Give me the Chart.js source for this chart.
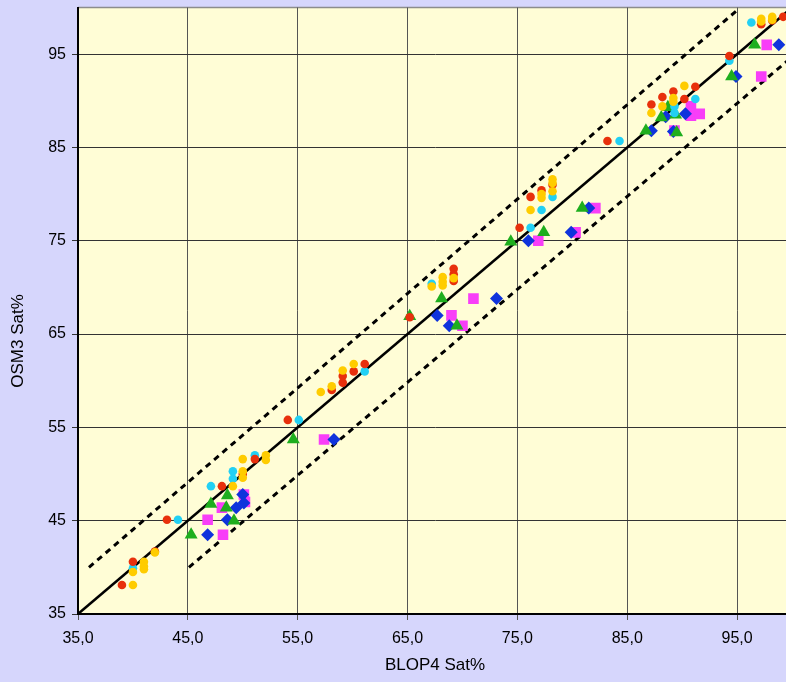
<!DOCTYPE html>
<html>
<head>
<meta charset="utf-8">
<script src="https://cdn.jsdelivr.net/npm/chart.js@4/dist/chart.umd.min.js"></script>
<style>
	html, body { margin: 0; padding: 0; overflow: hidden; background: #d6d6fc; }
	#wrap { width: 800px; height: 682px; position: relative; }
</style>
</head>
<body>
<div id="wrap"><canvas id="mycanvas"></canvas></div>
<script>
// axis ticks
var xTicks = [35, 45, 55, 65, 75, 85, 95];
var yTicks = [35, 45, 55, 65, 75, 85, 95];

// series: BLOP4 Sat% (x) vs OSM3 Sat% (y)
var redX = [39.0, 40.0, 42.0, 43.1, 48.1, 50.0, 51.1, 54.1, 58.1, 59.1, 59.1, 60.1, 61.1, 65.2, 69.2, 69.2, 69.2, 75.2, 76.2, 77.2, 78.2, 83.2, 87.2, 88.2, 89.2, 90.2, 91.2, 94.3, 97.2, 98.2, 99.2];
var redY = [38.1, 40.6, 41.7, 45.1, 48.7, 50.0, 51.6, 55.8, 59.0, 59.8, 60.5, 61.0, 61.8, 66.8, 72.0, 71.4, 70.7, 76.4, 79.7, 80.4, 81.0, 85.7, 89.6, 90.4, 91.0, 90.2, 91.5, 94.8, 98.2, 98.6, 99.0];

var yellowX = [40.0, 40.0, 41.0, 41.0, 41.0, 42.0, 49.1, 50.0, 50.0, 50.0, 52.1, 52.1, 57.1, 58.1, 59.1, 60.1, 67.2, 68.2, 68.2, 68.2, 69.2, 76.2, 77.2, 77.2, 78.2, 78.2, 78.2, 87.2, 88.2, 89.2, 89.2, 90.2, 97.2, 97.2, 98.2, 98.2];
var yellowY = [38.1, 39.5, 40.6, 40.1, 39.8, 41.6, 48.7, 51.6, 50.3, 49.6, 52.0, 51.5, 58.8, 59.4, 61.1, 61.8, 70.1, 71.1, 70.6, 70.2, 71.0, 78.3, 80.0, 79.6, 80.3, 81.6, 81.2, 88.7, 89.4, 90.3, 89.9, 91.6, 98.8, 98.5, 99.0, 98.7];

var cyanX = [40.0, 44.1, 47.1, 49.1, 49.1, 51.1, 55.1, 61.1, 67.2, 76.2, 77.2, 78.2, 84.3, 89.3, 89.3, 91.2, 94.3, 96.3];
var cyanY = [39.9, 45.1, 48.7, 49.5, 50.3, 52.0, 55.8, 61.0, 70.4, 76.4, 78.3, 79.7, 85.7, 89.4, 88.7, 90.2, 94.3, 98.4];

var greenX = [45.3, 47.1, 48.5, 48.6, 49.2, 54.6, 65.2, 68.1, 69.5, 74.4, 77.4, 80.9, 86.7, 88.1, 88.7, 89.4, 89.5, 94.5, 96.6];
var greenY = [43.5, 46.8, 46.4, 47.7, 45.0, 53.7, 66.9, 68.8, 65.9, 74.9, 75.9, 78.5, 86.8, 88.2, 89.3, 88.5, 86.6, 92.6, 96.0];

var blueX = [46.8, 48.6, 49.4, 50.0, 50.1, 58.3, 67.7, 68.8, 73.1, 76.0, 79.9, 81.5, 87.2, 88.5, 89.2, 90.3, 94.9, 98.8];
var blueY = [43.5, 45.1, 46.4, 47.8, 46.9, 53.7, 67.0, 65.9, 68.8, 75.0, 75.9, 78.5, 86.8, 88.3, 86.7, 88.6, 92.6, 96.0];

var magentaX = [46.8, 48.2, 48.1, 50.1, 50.2, 57.4, 69.0, 70.0, 71.0, 76.9, 80.3, 82.1, 89.3, 90.8, 90.8, 91.6, 97.2, 97.7];
var magentaY = [45.1, 43.5, 46.4, 47.8, 47.0, 53.7, 67.0, 65.9, 68.8, 75.0, 75.9, 78.5, 86.8, 89.4, 88.4, 88.6, 92.6, 96.0];

// reference lines (1:1 and the two dashed bands)
var diagX = [35, 100];
var diagY = [35, 100];
var upperX = [36.0, 94.9];
var upperY = [40.0, 99.6];
var lowerX = [45.1, 100];
var lowerY = [40.0, 94.7];

function pts(xs, ys) {
	var out = [];
	for (var i in xs) {
		out.push({x: xs[i], y: ys[i]});
	}
	return out;
}

function marks(label, xs, ys, color, style, r, order) {
	return {
		label: label,
		data: pts(xs, ys),
		pointStyle: style,
		pointRadius: r,
		pointHoverRadius: r,
		backgroundColor: color,
		borderColor: color,
		borderWidth: 0,
		order: order
	};
}

function refLine(label, xs, ys, dash, order) {
	return {
		label: label,
		data: pts(xs, ys),
		showLine: true,
		pointRadius: 0,
		borderColor: '#000000',
		borderWidth: dash.length ? 3 : 2.5,
		borderDash: dash,
		fill: false,
		order: order
	};
}

var plotBg = {
	id: 'plotBg',
	beforeDraw: function(chart) {
		var a = chart.chartArea, ctx = chart.ctx;
		ctx.save();
		ctx.fillStyle = '#fffdd6';
		ctx.fillRect(a.left, a.top, a.right - a.left, a.bottom - a.top);
		ctx.strokeStyle = '#8c8c8c';
		ctx.lineWidth = 1.5;
		ctx.beginPath();
		ctx.moveTo(a.left, a.top);
		ctx.lineTo(a.right, a.top);
		ctx.stroke();
		ctx.restore();
	},
	afterDraw: function(chart) {
		var ctx = chart.ctx;
		ctx.save();
		ctx.translate(18, 341);
		ctx.rotate(-Math.PI / 2);
		ctx.textAlign = 'center';
		ctx.textBaseline = 'middle';
		ctx.fillStyle = '#000000';
		ctx.font = '17px "Liberation Sans", Arial, sans-serif';
		ctx.fillText('OSM3 Sat%', 0, 0);
		ctx.restore();
	}
};

var ctx = document.getElementById('mycanvas');

var chart = new Chart(ctx, {
	type: 'scatter',
	data: {
		datasets: [
			marks('S1', yellowX, yellowY, '#ffcc00', 'circle', 4.3, 1),
			marks('S2', redX, redY, '#e8300c', 'circle', 4.3, 2),
			marks('S3', cyanX, cyanY, '#22d0f4', 'circle', 4.3, 3),
			marks('S4', greenX, greenY, '#1eae1e', 'triangle', 7.5, 4),
			marks('S5', blueX, blueY, '#0f33dc', 'rectRot', 6.5, 5),
			marks('S6', magentaX, magentaY, '#f83ef8', 'rect', 7.5, 6),
			refLine('1:1', diagX, diagY, [], 7),
			refLine('+5', upperX, upperY, [6, 5], 8),
			refLine('-5', lowerX, lowerY, [6, 5], 9)
		]
	},
	plugins: [plotBg],
	options: {
		responsive: true,
		maintainAspectRatio: false,
		animation: false,
		layout: { padding: { left: 0, top: 0, right: 8, bottom: 0 } },
		plugins: {
			legend: { display: false },
			tooltip: { enabled: false }
		},
		scales: {
			x: {
				type: 'linear',
				min: 35,
				max: 100,
				afterBuildTicks: function(scale) {
					scale.ticks = xTicks.map(function(v) { return {value: v}; });
				},
				afterFit: function(scale) { scale.height = 68; },
				ticks: {
					color: '#000000',
					padding: 9,
					maxRotation: 0,
					font: { family: '"Liberation Sans", Arial, sans-serif', size: 16 },
					callback: function(v) { return v.toFixed(1).replace('.', ','); }
				},
				grid: { color: '#555555', lineWidth: 1, tickLength: 6 },
				border: { color: '#000000', width: 2 },
				title: {
					display: true,
					text: 'BLOP4 Sat%',
					color: '#000000',
					padding: { top: 4, bottom: 6 },
					font: { family: '"Liberation Sans", Arial, sans-serif', size: 17 }
				}
			},
			y: {
				type: 'linear',
				min: 35,
				max: 100,
				afterBuildTicks: function(scale) {
					scale.ticks = yTicks.map(function(v) { return {value: v}; });
				},
				afterFit: function(scale) {
					scale.width = 78;
					scale.paddingTop = 0;
					scale.paddingBottom = 0;
				},
				ticks: {
					color: '#000000',
					padding: 6,
					font: { family: '"Liberation Sans", Arial, sans-serif', size: 16 }
				},
				grid: { color: '#333333', lineWidth: 1, tickLength: 6 },
				border: { color: '#000000', width: 2 }
			}
		}
	}
});
</script>
</body>
</html>
